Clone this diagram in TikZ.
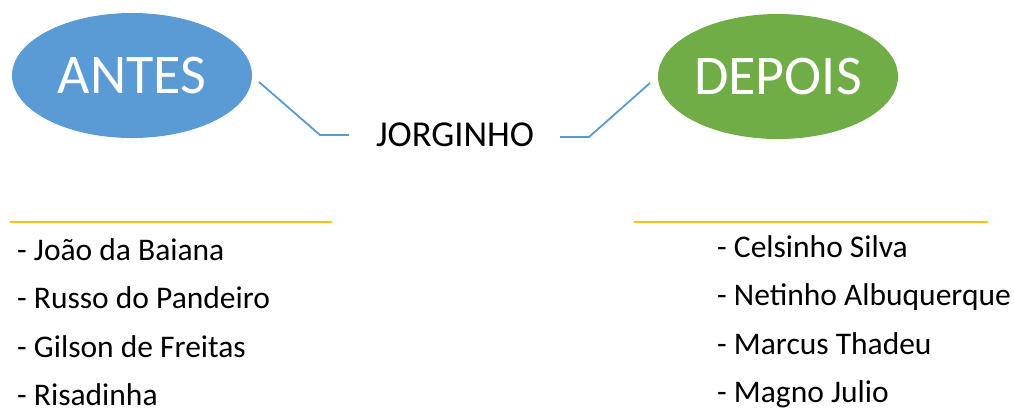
\documentclass[tikz,border=0pt]{standalone}
\usepackage{fontspec}
\setmainfont{Carlito}
\usetikzlibrary{shapes.geometric}
\definecolor{antesblue}{HTML}{5B9BD5}
\definecolor{depoisgreen}{HTML}{70AD47}
\definecolor{lineorange}{HTML}{FFC000}
\begin{document}
\begin{tikzpicture}[x=1pt,y=-1pt,
  bubble/.style={ellipse, minimum width=240pt, minimum height=125pt, inner sep=0pt, text=white, font=\fontsize{56}{60}\selectfont},
  link/.style={draw=antesblue, line width=1.8pt},
  rulebar/.style={draw=lineorange, line width=1.8pt},
  item/.style={anchor=base west, inner sep=0pt, font=\fontsize{31.5}{34}\selectfont}]
\useasboundingbox (0,0) rectangle (1014,408);
\node[bubble, fill=antesblue] (antes) at (132,75.5) {ANTES};
\node[bubble, fill=depoisgreen] (depois) at (778,76.5) {DEPOIS};
\node[anchor=base, inner sep=0pt, font=\fontsize{36.5}{40}\selectfont] (jorg) at (455,146) {JORGINHO};
\coordinate (la) at (259,82);
\coordinate (lb) at (320,135);
\coordinate (lc) at (349,135);
\coordinate (ra) at (560,137);
\coordinate (rb) at (589,137);
\coordinate (rc) at (650,83);
\draw[link] (la) -- (lb) -- (lc);
\draw[link] (ra) -- (rb) -- (rc);
\coordinate (o1) at (10,222);
\coordinate (o2) at (332,222);
\coordinate (o3) at (634,222);
\coordinate (o4) at (988,222);
\draw[rulebar] (o1) -- (o2);
\draw[rulebar] (o3) -- (o4);
\node[item] (l1) at (17,260) {- João da Baiana};
\node[item] (l2) at (17,308.5) {- Russo do Pandeiro};
\node[item] (l3) at (17,357) {- Gilson de Freitas};
\node[item] (l4) at (17,405.5) {- Risadinha};
\node[item] (r1) at (717,257) {- Celsinho Silva};
\node[item] (r2) at (717,305.5) {- Netinho Albuquerque};
\node[item] (r3) at (717,354) {- Marcus Thadeu};
\node[item] (r4) at (717,402.5) {- Magno Julio};
\end{tikzpicture}
\end{document}
